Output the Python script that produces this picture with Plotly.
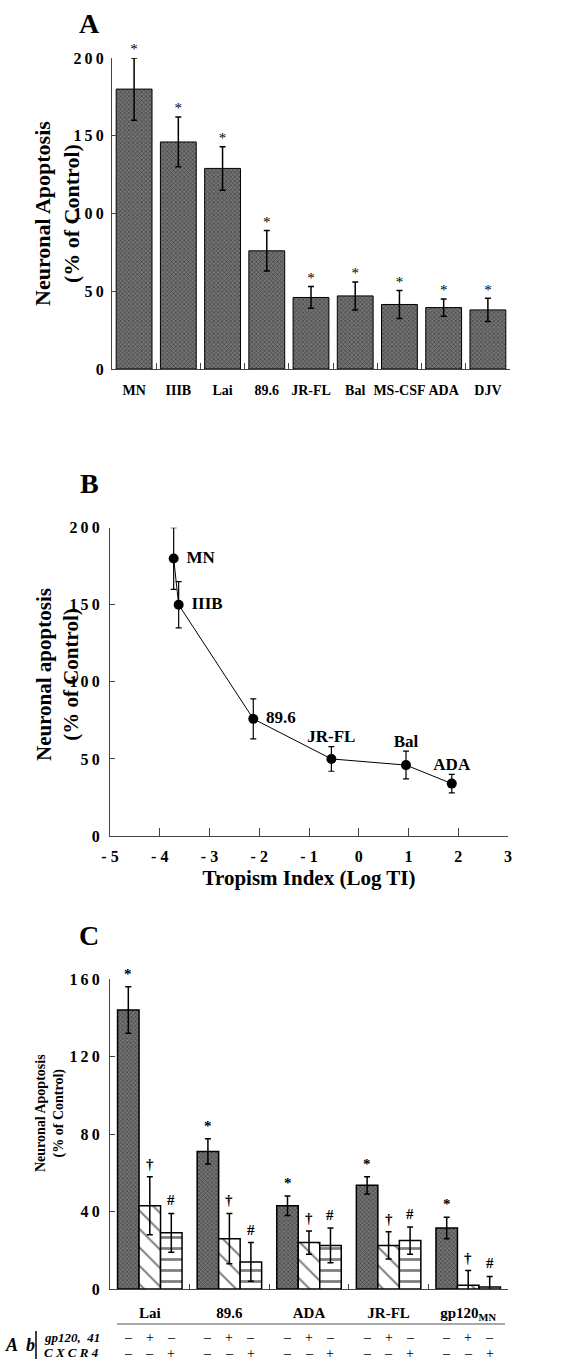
import plotly.graph_objects as go

# ---- Panel A: apoptosis by HIV strain
strains_a = ["MN", "IIIB", "Lai", "89.6", "JR-FL", "Bal", "MS-CSF", "ADA", "DJV"]
apoptosis_a = [180, 146, 129, 76, 46, 47, 41.5, 39.5, 38]
err_a = [20, 16, 14, 13, 7, 9, 9, 5.5, 7.5]

# ---- Panel B: apoptosis vs tropism index
strains_b = ["MN", "IIIB", "89.6", "JR-FL", "Bal", "ADA"]
log_ti = [-3.72, -3.62, -2.12, -0.55, 0.95, 1.87]
apoptosis_b = [180, 150, 76, 50, 46, 34]
err_b = [20, 15, 13, 8, 9, 6]
label_side_b = ["right", "right", "right", "above", "above", "above"]

# ---- Panel C: antibody blocking
strains_c = ["Lai", "89.6", "ADA", "JR-FL", "gp120<sub>MN</sub>"]
no_ab = [144, 71, 43, 53.5, 31.5]
no_ab_err = [12, 6.5, 5, 4.5, 5.5]
anti_gp = [43, 26, 24, 22.5, 2]
anti_gp_err = [15, 13, 6, 7, 7.5]
anti_cxcr4 = [29, 14, 22.5, 25, 1]
anti_cxcr4_err = [10, 10, 9, 7, 5.5]
sig_marks = ["*", "†", "#"]
ab_gp120 = ["–", "+", "–"]
ab_cxcr4 = ["–", "–", "+"]

# tick labels
yticks_a = [0, 50, 100, 150, 200]
yticks_c = [0, 40, 80, 120, 160]
xticks_b = [-5, -4, -3, -2, -1, 0, 1, 2, 3]
xticktext_b = ["- 5", "- 4", "- 3", "- 2", "- 1", "0", "1", "2", "3"]

FONT = "Liberation Serif"
H = 1362
W = 576


def spaced(v):
    return "\u2009".join(str(v))


def py(p):
    return 1 - p / H


fig = go.Figure()

dark_pattern = dict(shape="x", fgcolor="#111111", bgcolor="#747474", size=3, solidity=0.4)

# Panel A bars
fig.add_trace(go.Bar(
    x=strains_a, y=apoptosis_a, xaxis="x", yaxis="y",
    marker=dict(color="#747474", pattern=dark_pattern, line=dict(color="black", width=1)),
    error_y=dict(type="data", array=err_a, color="black", thickness=1.5, width=3),
    showlegend=False,
))
fig.add_trace(go.Scatter(
    x=strains_a, y=[v + e for v, e in zip(apoptosis_a, err_a)], xaxis="x", yaxis="y",
    mode="text", text=["*"] * len(strains_a), textposition="top center", cliponaxis=False,
    textfont=dict(family=FONT, size=15, color="black"), showlegend=False,
))

# Panel B line
fig.add_trace(go.Scatter(
    x=log_ti, y=apoptosis_b, xaxis="x2", yaxis="y2", mode="lines+markers",
    line=dict(color="black", width=1), marker=dict(color="black", size=10),
    error_y=dict(type="data", array=err_b, color="black", thickness=1.2, width=3),
    cliponaxis=False, showlegend=False,
))
right_idx = [i for i, s in enumerate(label_side_b) if s == "right"]
above_idx = [i for i, s in enumerate(label_side_b) if s == "above"]
fig.add_trace(go.Scatter(
    x=[log_ti[i] for i in right_idx], y=[apoptosis_b[i] for i in right_idx],
    xaxis="x2", yaxis="y2", mode="text", cliponaxis=False,
    text=["   " + strains_b[i] for i in right_idx], textposition="middle right",
    textfont=dict(family=FONT, size=17, color="black", weight="bold"), showlegend=False,
))
fig.add_trace(go.Scatter(
    x=[log_ti[i] for i in above_idx], y=[apoptosis_b[i] + err_b[i] for i in above_idx],
    xaxis="x2", yaxis="y2", mode="text", cliponaxis=False,
    text=[strains_b[i] for i in above_idx], textposition="top center",
    textfont=dict(family=FONT, size=17, color="black", weight="bold"), showlegend=False,
))

# Panel C grouped bars
c_series = [
    (no_ab, no_ab_err, dict(color="#747474", pattern=dark_pattern, line=dict(color="black", width=1.5))),
    (anti_gp, anti_gp_err, dict(color="white", pattern=dict(shape="\\", fgcolor="black", bgcolor="white", size=13, solidity=0.15), line=dict(color="black", width=1.5))),
    (anti_cxcr4, anti_cxcr4_err, dict(color="white", pattern=dict(shape="-", fgcolor="black", bgcolor="white", size=11, solidity=0.25), line=dict(color="black", width=1.5))),
]
for vals, errs, mk in c_series:
    fig.add_trace(go.Bar(
        x=strains_c, y=vals, xaxis="x3", yaxis="y3", marker=mk,
        error_y=dict(type="data", array=errs, color="black", thickness=1.5, width=3),
        showlegend=False,
    ))

bargap = 0.19
bw = (1 - bargap) / 3
annotations = []
for j, (vals, errs, _) in enumerate(c_series):
    for i, (v, e) in enumerate(zip(vals, errs)):
        annotations.append(dict(
            x=i + (j - 1) * bw, y=v + e, xref="x3", yref="y3", text=sig_marks[j],
            showarrow=False, xanchor="center", yanchor="bottom", yshift=3,
            font=dict(family=FONT, size=15, color="black", weight="bold"),
        ))
        annotations.append(dict(
            x=i + (j - 1) * bw, y=py(1337), xref="x3", yref="paper", text=ab_gp120[j],
            showarrow=False, xanchor="center", yanchor="middle",
            font=dict(family=FONT, size=14, color="black"),
        ))
        annotations.append(dict(
            x=i + (j - 1) * bw, y=py(1353), xref="x3", yref="paper", text=ab_cxcr4[j],
            showarrow=False, xanchor="center", yanchor="middle",
            font=dict(family=FONT, size=14, color="black"),
        ))

# panel letters
for letter, yy in [("A", 23), ("B", 483), ("C", 935)]:
    annotations.append(dict(x=89 / W, y=py(yy), xref="paper", yref="paper", text=letter,
                            showarrow=False, xanchor="center", yanchor="middle",
                            font=dict(family=FONT, size=28, color="black", weight="bold")))

# y-axis titles
for cx, cy, size, txt in [
    (57, 214, 22, "Neuronal Apoptosis<br>(% of Control)"),
    (57, 675, 21, "Neuronal apoptosis<br>(% of Control)"),
    (50, 1113, 14, "Neuronal Apoptosis<br>(% of Control)"),
]:
    annotations.append(dict(x=cx / W, y=py(cy), xref="paper", yref="paper", text=txt,
                            textangle=-90, showarrow=False, xanchor="center", yanchor="middle",
                            font=dict(family=FONT, size=size, color="black", weight="bold")))

# Ab row labels
annotations.append(dict(x=3 / W, y=py(1345), xref="paper", yref="paper", text="<i>A  b</i>",
                        showarrow=False, xanchor="left", yanchor="middle",
                        font=dict(family=FONT, size=18, color="black", weight="bold")))
annotations.append(dict(x=42 / W, y=py(1337), xref="paper", yref="paper", text="<i>gp120,  41</i>",
                        showarrow=False, xanchor="left", yanchor="middle",
                        font=dict(family=FONT, size=13, color="black", weight="bold")))
annotations.append(dict(x=42 / W, y=py(1352), xref="paper", yref="paper", text="<i>C X C R 4</i>",
                        showarrow=False, xanchor="left", yanchor="middle",
                        font=dict(family=FONT, size=13, color="black", weight="bold")))

shapes = [
    dict(type="line", xref="paper", yref="paper", x0=36 / W, x1=36 / W, y0=py(1331), y1=py(1359),
         line=dict(color="black", width=1.5)),
    dict(type="line", xref="paper", yref="paper", x0=117 / W, x1=505 / W, y0=py(1324), y1=py(1324),
         line=dict(color="#555555", width=1.2)),
]

tick_font = dict(family=FONT, size=16, color="black", weight="bold")
cat_font = dict(family=FONT, size=14, color="black", weight="bold")
axis_common = dict(showline=True, linecolor="#444444", linewidth=1, showgrid=False, zeroline=False,
                   ticks="inside", tickcolor="#444444", automargin=False)

fig.update_layout(
    width=W, height=H, margin=dict(l=0, r=0, t=0, b=0, autoexpand=False),
    paper_bgcolor="white", plot_bgcolor="white",
    font=dict(family=FONT, color="black"),
    barmode="group", bargap=bargap, bargroupgap=0,
    xaxis=dict(domain=[112 / W, 510 / W], anchor="y", type="category", tickson="boundaries",
               ticklen=6, tickfont=cat_font, tickangle=0, ticklabelstandoff=8, **axis_common),
    yaxis=dict(domain=[py(369), py(58)], anchor="x", range=[0, 200], tickvals=yticks_a,
               ticktext=[spaced(v) for v in yticks_a], ticklen=5, tickfont=tick_font,
               ticklabelstandoff=4, **axis_common),
    xaxis2=dict(domain=[110 / W, 508 / W], anchor="y2", range=[-5, 3], tickvals=xticks_b,
                ticktext=xticktext_b, ticklen=8, tickfont=tick_font, tickangle=0, ticklabelstandoff=6,
                title=dict(text="Tropism Index (Log TI)", standoff=6,
                           font=dict(family=FONT, size=21, color="black", weight="bold")),
                **axis_common),
    yaxis2=dict(domain=[py(836), py(527.7)], anchor="x2", range=[0, 200], tickvals=yticks_a,
                ticktext=[spaced(v) for v in yticks_a], ticklen=5, tickfont=tick_font,
                ticklabelstandoff=6, **axis_common),
    xaxis3=dict(domain=[110 / W, 508 / W], anchor="y3", type="category", tickson="boundaries",
                ticklen=5, tickfont=dict(family=FONT, size=15, color="black", weight="bold"),
                tickangle=0, ticklabelstandoff=10, **axis_common),
    yaxis3=dict(domain=[py(1289), py(979)], anchor="x3", range=[0, 160], tickvals=yticks_c,
                ticktext=[spaced(v) for v in yticks_c], ticklen=5, tickfont=tick_font,
                ticklabelstandoff=6, **axis_common),
    annotations=annotations,
    shapes=shapes,
)

fig.write_html("out.html", config={"displayModeBar": False},
               post_script="document.body.style.margin='0';")
